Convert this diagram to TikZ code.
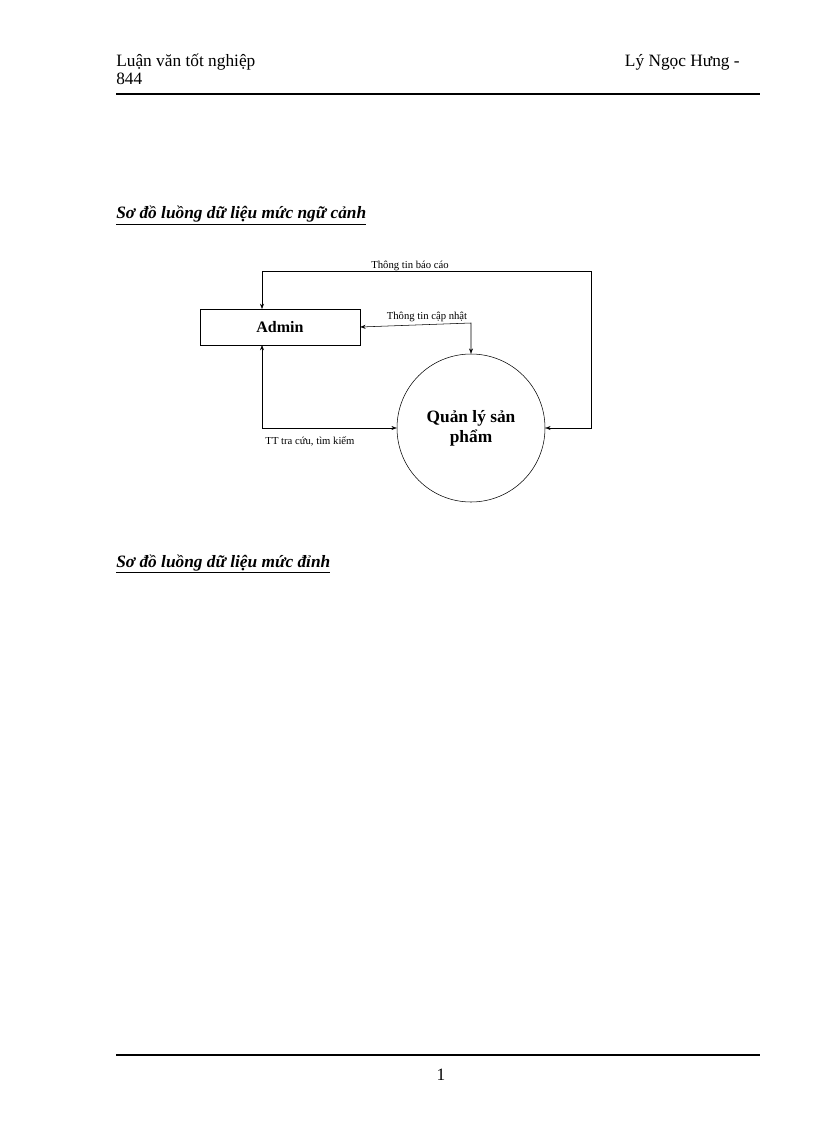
\documentclass[tikz,border=0pt]{standalone}
\usepackage{fontspec}
\setmainfont{Liberation Serif}
\usetikzlibrary{arrows.meta}
\begin{document}
\begin{tikzpicture}[x=0.75pt,y=-0.75pt,
  flow/.style={draw,thin,-{Stealth[length=4pt,width=3pt]}, {Stealth[length=4pt,width=3pt]}-{Stealth[length=4pt,width=3pt]}},
  lbl/.style={font=\fontsize{8}{9}\selectfont,inner sep=0pt},
  hdr/.style={font=\fontsize{13}{14}\selectfont,inner sep=0pt,anchor=base west},
  ttl/.style={font=\fontsize{13}{14}\selectfont\bfseries\itshape,inner sep=0pt,anchor=base west}]
\useasboundingbox (0,0) rectangle (816,1123);
\node[hdr] (h1) at (116,67) {Luận văn tốt nghiệp};
\node[hdr] (h2) at (116,85) {844};
\node[hdr,anchor=base east] (h3) at (740,67) {Lý Ngọc Hưng -};
\draw[line width=1.5pt] (116,94) -- (760,94);
\node[ttl] (t1) at (116,219) {\underline{Sơ đồ luồng dữ liệu mức ngữ cảnh}};
\node[ttl] (t2) at (116,567) {\underline{Sơ đồ luồng dữ liệu mức đỉnh}};
\node[draw,minimum width=120pt,minimum height=27pt,inner sep=0pt,font=\fontsize{12}{14}\selectfont\bfseries] (admin) at (280,327) {Admin};
\node[draw,circle,minimum size=111pt,inner sep=0pt,font=\fontsize{13}{15}\selectfont\bfseries,align=center] (ql) at (471,428) {Quản lý sản\\phẩm};
\coordinate (c1) at (591,271);
\coordinate (c2) at (262,271);
\draw[flow] (ql.east) -- (591,428) -- (c1) -- (c2) -- (262,309);
\node[lbl,anchor=base] (l1) at (410,268) {Thông tin báo cáo};
\draw[flow] (admin.east) -- (471,323) -- (ql.north);
\node[lbl,anchor=base] (l2) at (427,319) {Thông tin cập nhật};
\draw[flow] (262,345) -- (262,428) -- (ql.west);
\node[lbl,anchor=base] (l3) at (310,444) {TT tra cứu, tìm kiếm};
\draw[line width=1.5pt] (116,1055) -- (760,1055);
\node[hdr,anchor=base] (pg) at (441,1080) {1};
\end{tikzpicture}
\end{document}
